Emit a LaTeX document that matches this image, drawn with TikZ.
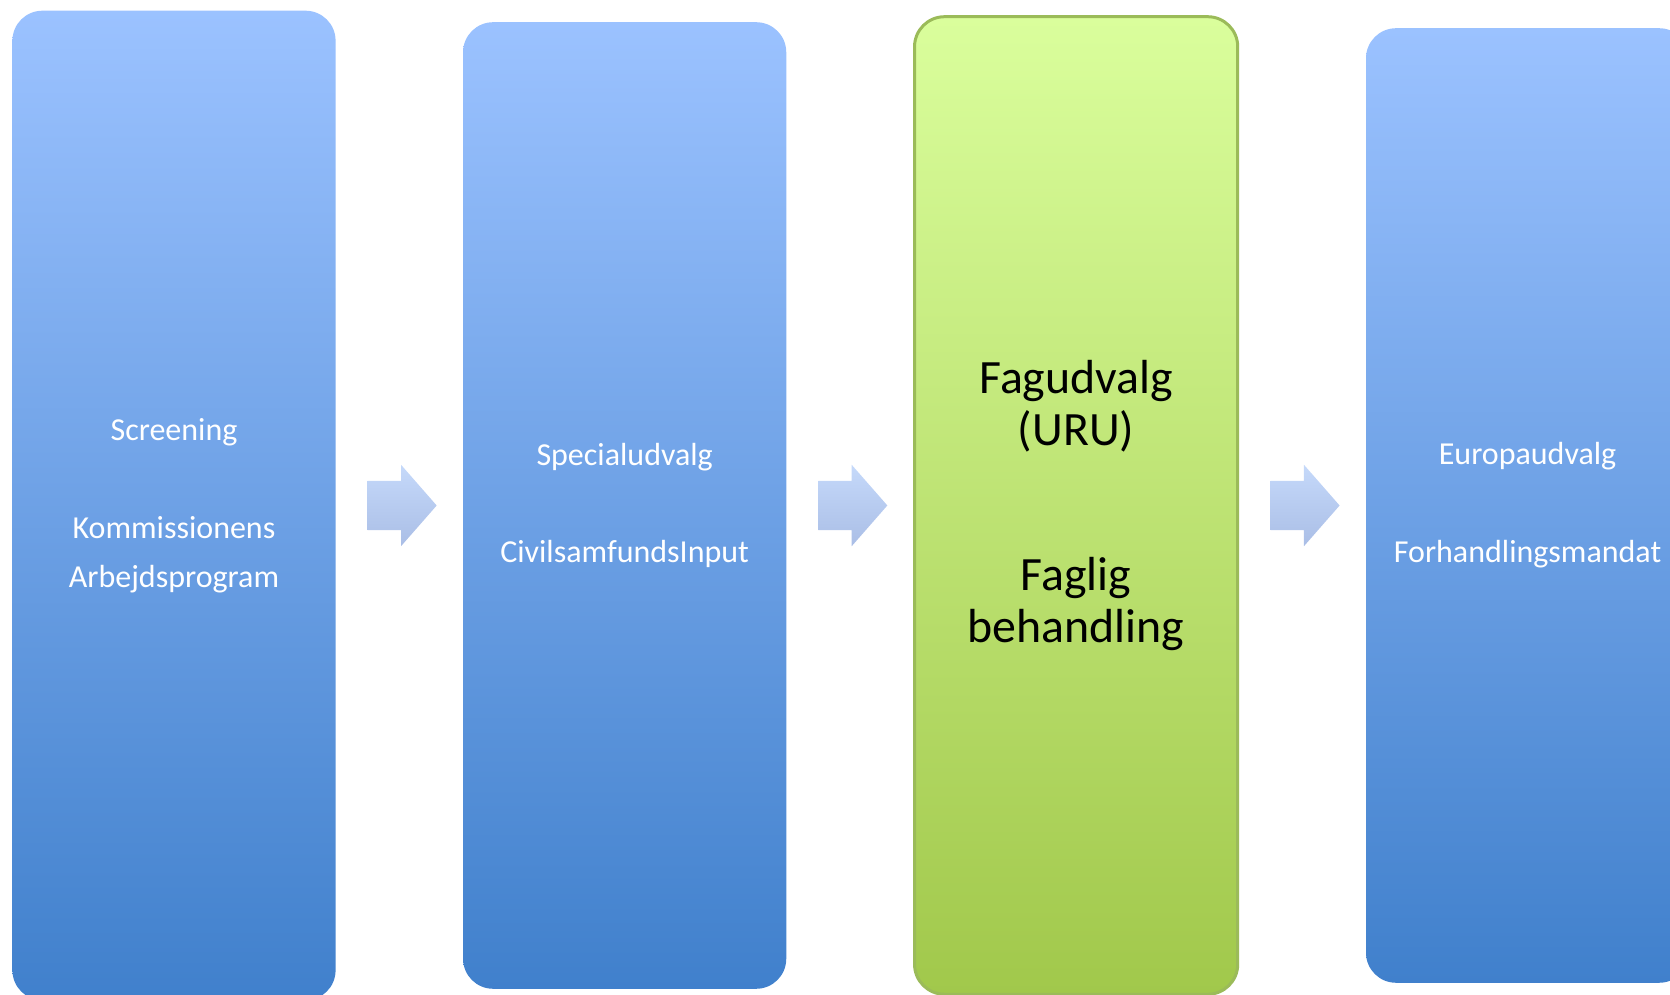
\documentclass[tikz,border=0pt]{standalone}
\usepackage{fontspec}
\setmainfont{Carlito}
\usepackage{tikz}
\usetikzlibrary{positioning,shapes.arrows,calc}
\definecolor{ctop}{RGB}{155,194,255}
\definecolor{cbottom}{RGB}{64,128,204}
\definecolor{gtop}{RGB}{218,254,156}
\definecolor{gbottom}{RGB}{161,200,75}
\definecolor{gborder}{RGB}{155,187,89}
\definecolor{atop}{RGB}{197,217,250}
\definecolor{abottom}{RGB}{170,190,230}

\begin{document}
\begin{tikzpicture}[x=0.01cm,y=-0.01cm,node distance=1.26cm,
  main node/.style={rectangle,rounded corners=0.3cm,top color=ctop,bottom color=cbottom,
    minimum width=3.23cm,inner sep=0pt,text=white,align=center,
    font=\fontsize{9.1}{13.9}\selectfont},
  uru node/.style={rectangle,rounded corners=0.3cm,top color=gtop,bottom color=gbottom,
    draw=gborder,line width=0.85pt,minimum width=3.23cm,inner sep=0pt,text=black,
    align=center,font=\fontsize{13.6}{15}\selectfont},
  flow arrow/.style={single arrow,top color=atop,bottom color=abottom,inner sep=0pt,
    text height=0.24cm,text depth=0.24cm,single arrow head extend=0.16cm,
    single arrow tip angle=97.6,minimum height=0.69cm,xshift=-0.08cm}]
  \useasboundingbox (0,0) rectangle (1670,995);

  \node[main node,minimum height=9.89cm] (1) at (174,505.5)
    {Screening\\[13.9pt]Kommissionens\\Arbejdsprogram};
  \node[main node,minimum height=9.66cm] (2) [right=of 1]
    {Specialudvalg\\[13.9pt]CivilsamfundsInput};
  \node[uru node,minimum height=9.77cm] (3) [right=of 2]
    {Fagudvalg\\(URU)\\[26pt]Faglig\\behandling};
  \node[main node,minimum height=9.54cm] (4) [right=of 3]
    {Europaudvalg\\[13.9pt]Forhandlingsmandat};

  % arrows between the stages
  \node[flow arrow] (a1) at ($(1.east)!0.5!(2.west)$) {};
  \node[flow arrow] (a2) at ($(2.east)!0.5!(3.west)$) {};
  \node[flow arrow] (a3) at ($(3.east)!0.5!(4.west)$) {};
\end{tikzpicture}
\end{document}
